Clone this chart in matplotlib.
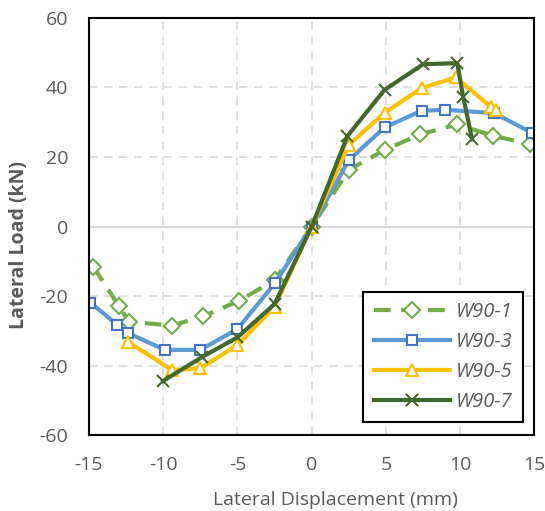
import numpy as np
import matplotlib.pyplot as plt

plt.rcParams['font.family'] = ['Open Sans', 'DejaVu Sans']
plt.rcParams['axes.unicode_minus'] = False

# displacement (mm) and load (kN)
w1_x = [-14.7, -13.0, -12.3, -9.4, -7.3, -4.9, -2.5, 0.0, 2.5, 4.9, 7.3, 9.8, 12.2, 14.7]
w1_y = [-11.6, -22.8, -27.4, -28.5, -25.8, -21.4, -15.4, 0.0, 16.3, 22.0, 26.5, 29.4, 26.1, 23.7]

w3_x = [-14.9, -13.1, -12.4, -9.9, -7.5, -5.0, -2.5, 0.0, 2.5, 4.9, 7.4, 9.0, 12.3, 14.8]
w3_y = [-21.9, -28.3, -30.6, -35.5, -35.5, -29.5, -16.4, 0.0, 19.1, 28.5, 33.3, 33.6, 32.6, 27.0]

w5_x = [-12.4, -9.4, -7.5, -5.0, -2.5, 0.0, 2.5, 4.9, 7.4, 9.7, 12.1, 12.4]
w5_y = [-33.1, -41.3, -40.8, -34.1, -23.1, 0.0, 23.5, 32.7, 39.8, 42.9, 34.3, 33.5]

w7_x = [-10.0, -7.4, -5.0, -2.5, 0.0, 2.4, 4.9, 7.5, 9.8, 10.2, 10.8]
w7_y = [-44.4, -37.6, -31.9, -22.3, 0.0, 26.0, 39.3, 46.7, 47.0, 37.2, 25.1]

x_ticks = [-15, -10, -5, 0, 5, 10, 15]
y_ticks = [-60, -40, -20, 0, 20, 40, 60]

txt = '#595959'

fig = plt.figure(figsize=(5.45, 5.11), dpi=100)
ax = fig.add_axes([0.1633, 0.1487, 0.8174, 0.8161])

for x in x_ticks:
    ax.axvline(x, color='#d9d9d9', lw=1.2, ls=(0, (5, 4)), zorder=0)
for y in y_ticks:
    if y == 0:
        ax.axhline(y, color='#d9d9d9', lw=1.5, zorder=0)
    else:
        ax.axhline(y, color='#d9d9d9', lw=1.2, ls=(0, (5, 4)), zorder=0)

ax.plot(w1_x, w1_y, color='#70ad47', lw=3, ls=(0, (4, 2.5)), marker='D', ms=8.5,
        mfc='white', mec='#70ad47', mew=1.5, label='W90-1')
ax.plot(w3_x, w3_y, color='#5b9bd5', lw=3, marker='s', ms=7.5,
        mfc='white', mec='#4472c4', mew=1.5, label='W90-3')
ax.plot(w5_x, w5_y, color='#ffc000', lw=3, marker='^', ms=9,
        mfc='white', mec='#ffc000', mew=1.5, label='W90-5')
ax.plot(w7_x, w7_y, color='#43682b', lw=3, marker='x', ms=8,
        mec='#43682b', mew=1.5, label='W90-7')

ax.set_xlim(-15, 15)
ax.set_ylim(-60, 60)
ax.set_xticks(x_ticks)
ax.set_yticks(y_ticks)
ax.tick_params(length=0, labelsize=14, colors=txt)
ax.tick_params(axis='x', pad=15)
ax.tick_params(axis='y', pad=15)
for s in ax.spines.values():
    s.set_color('black')
    s.set_linewidth(1.5)

ax.set_xlabel('Lateral Displacement (mm)', fontsize=14, color=txt)
ax.xaxis.set_label_coords(0.554, -0.156)
ax.xaxis.label.set_va('center')
ax.set_ylabel('Lateral Load (kN)', fontsize=14, color=txt, fontweight='bold')
ax.yaxis.set_label_coords(-0.157, 0.456)
ax.yaxis.label.set_va('center')

leg = ax.legend(loc='lower right', bbox_to_anchor=(0.974, 0.031), fancybox=False,
                edgecolor='black', framealpha=1, handlelength=3.8, handletextpad=0.3,
                prop={'style': 'italic', 'size': 14.5}, labelspacing=0.5,
                borderpad=0.5, borderaxespad=0)
leg.get_frame().set_linewidth(1.5)
for t in leg.get_texts():
    t.set_color(txt)

fig.savefig('out.png', dpi=100)
